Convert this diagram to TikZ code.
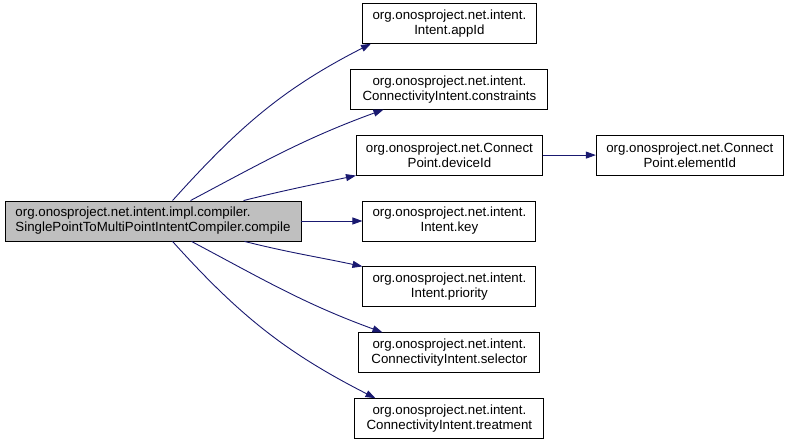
\documentclass[tikz,border=0pt]{standalone}
\usepackage{fontspec}
\setmainfont{Liberation Sans}
\usetikzlibrary{arrows.meta,positioning}
\definecolor{edgeblue}{HTML}{191970}
\definecolor{maingray}{HTML}{BFBFBF}

\begin{document}
\begin{tikzpicture}[
		x=1pt, y=1pt,
		font=\fontsize{13.3}{15}\selectfont,
		node distance=25pt and 53pt,
		every node/.style={align=center},
		fn/.style={rectangle, draw=black, line width=0.9pt, fill=white,
				minimum height=40pt, inner sep=2pt},
		focus/.style={fn, fill=maingray, align=left},
		call/.style={-{Triangle[length=10pt, width=7pt]}, line width=0.9pt, edgeblue},
		]
		\useasboundingbox (0,0) rectangle (787,443);

		\node[focus, minimum width=296pt] (compile) at (153,222)
		{org.onosproject.net.intent.impl.compiler.\\SinglePointToMultiPointIntentCompiler.compile};

		\node[fn, minimum width=173pt, right=61pt of compile] (key) {org.onosproject.net.intent.\\Intent.key};
		\node[fn, minimum width=186pt, above=of key]         (devid) {org.onosproject.net.Connect\\Point.deviceId};
		\node[fn, minimum width=197pt, above=of devid]       (constr) {org.onosproject.net.intent.\\ConnectivityIntent.constraints};
		\node[fn, minimum width=174pt, above=of constr]      (appid) {org.onosproject.net.intent.\\Intent.appId};
		\node[fn, minimum width=173pt, below=of key]         (prio) {org.onosproject.net.intent.\\Intent.priority};
		\node[fn, minimum width=181pt, below=of prio]        (sel) {org.onosproject.net.intent.\\ConnectivityIntent.selector};
		\node[fn, minimum width=189pt, below=of sel]         (treat) {org.onosproject.net.intent.\\ConnectivityIntent.treatment};

		\node[fn, minimum width=187pt, right=of devid] (elemid) {org.onosproject.net.Connect\\Point.elementId};

		\draw[call] ([xshift=168pt]compile.north west) to[out=48, in=207] ([xshift=9pt]appid.south west);
		\draw[call] ([xshift=186pt]compile.north west) to[out=28, in=200] ([xshift=33pt]constr.south west);
		\draw[call] ([xshift=239pt]compile.north west) to[out=14, in=192] (devid.south west);
		\draw[call] (compile) -- (key);
		\draw[call] ([xshift=240pt]compile.south west) to[out=-14, in=168] (prio.north west);
		\draw[call] ([xshift=187pt]compile.south west) to[out=-28, in=160] ([xshift=24pt]sel.north west);
		\draw[call] ([xshift=168pt]compile.south west) to[out=-48, in=153] ([xshift=21pt]treat.north west);
		\draw[call] (devid) -- (elemid);

	\end{tikzpicture}
\end{document}
